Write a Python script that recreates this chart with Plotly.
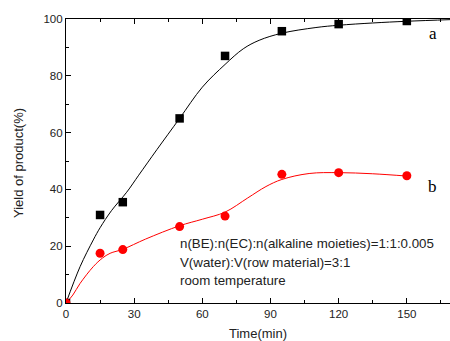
import plotly.graph_objects as go

# measured points
time_pts = [0, 15, 25, 50, 70, 95, 120, 150]
yield_a = [0, 31, 35.5, 65, 87, 95.7, 98.2, 99.3]
yield_b = [0, 17.5, 18.8, 26.9, 30.6, 45.3, 45.9, 44.8]

# fitted curves
fit_x_a = [0, 6.2, 12, 15, 20, 26.7, 32, 40, 50, 60, 70, 78, 85, 95, 110, 120, 135, 150, 170]
fit_a = [0, 12.8, 22.2, 26.5, 32.5, 39, 45, 54, 65, 76, 84, 89.5, 92.5, 95, 97, 97.8, 98.6, 99.2, 99.8]
fit_x_b = [0, 3, 6.2, 12, 16, 19.4, 25, 35, 50, 60, 70, 80, 88, 95, 107, 120, 135, 150]
fit_b = [0, 2.8, 6.9, 12.8, 15.8, 17.5, 18.9, 22.5, 27.2, 29.5, 32, 37, 41, 43.5, 45.6, 45.9, 45.5, 44.7]

x_ticks = [0, 30, 60, 90, 120, 150]
y_ticks = [0, 20, 40, 60, 80, 100]

fig = go.Figure()
fig.add_trace(go.Scatter(x=fit_x_a, y=fit_a, mode="lines", line=dict(color="black", width=1, shape="spline"), showlegend=False))
fig.add_trace(go.Scatter(x=fit_x_b, y=fit_b, mode="lines", line=dict(color="red", width=1, shape="spline"), showlegend=False))
fig.add_trace(go.Scatter(x=time_pts, y=yield_a, mode="markers", marker=dict(symbol="square", color="black", size=8.5), showlegend=False))
fig.add_trace(go.Scatter(x=time_pts, y=yield_b, mode="markers", marker=dict(symbol="circle", color="red", size=9), showlegend=False))

sans = "Arial, Liberation Sans"
axis_font = dict(family=sans, size=11.5, color="#222")
fig.update_layout(
    width=450, height=341,
    margin=dict(l=66, r=0, t=19, b=38, autoexpand=False),
    paper_bgcolor="white", plot_bgcolor="white",
    xaxis=dict(range=[0, 169], tickvals=x_ticks, ticks="inside", ticklen=5, tickwidth=1, tickcolor="black",
               showline=True, linecolor="black", linewidth=1.2, mirror="ticks", showgrid=False, zeroline=False,
               tickfont=axis_font, automargin=False,
               minor=dict(ticks="inside", ticklen=3, tickcolor="black", dtick=15, tick0=0, showgrid=False)),
    yaxis=dict(range=[0, 100], tickvals=y_ticks, ticks="inside", ticklen=5, tickwidth=1, tickcolor="black",
               showline=True, linecolor="black", linewidth=1.2, mirror=False, showgrid=False, zeroline=False,
               tickfont=axis_font, automargin=False,
               minor=dict(ticks="inside", ticklen=3, tickcolor="black", dtick=10, tick0=0, showgrid=False)),
)
fig.add_annotation(x=(258 - 66) / 384, y=-(333 - 303) / 284, xref="paper", yref="paper", text="Time(min)",
                   showarrow=False, xanchor="center", yanchor="middle", font=dict(family=sans, size=13, color="#222"))
fig.add_annotation(x=-(66 - 18) / 384, y=(303 - 163) / 284, xref="paper", yref="paper", text="Yield of product(%)",
                   showarrow=False, textangle=-90, xanchor="center", yanchor="middle", font=dict(family=sans, size=13, color="#222"))
fig.add_annotation(x=161.5, y=95, xref="x", yref="y", text="a", showarrow=False,
                   font=dict(family="Liberation Serif, Times New Roman", size=17, color="black"))
fig.add_annotation(x=161.5, y=41, xref="x", yref="y", text="b", showarrow=False,
                   font=dict(family="Liberation Serif, Times New Roman", size=17, color="black"))
for yy, txt in [(21.1, "n(BE):n(EC):n(alkaline moieties)=1:1:0.005"),
                (14.4, "V(water):V(row material)=3:1"),
                (8.1, "room temperature")]:
    fig.add_annotation(x=49.5, y=yy, xref="x", yref="y", xanchor="left", yanchor="middle", align="left", showarrow=False,
                       text=txt, font=dict(family=sans, size=13.3, color="#222"))
fig.write_html("out.html", config={"displayModeBar": False}, post_script="document.body.style.margin='0';")
